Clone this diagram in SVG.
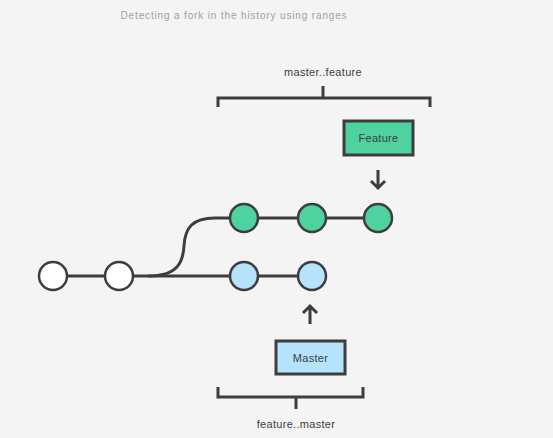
<svg xmlns="http://www.w3.org/2000/svg" width="553" height="438" viewBox="0 0 553 438">
<defs>
<style>
.t{font-family:"Liberation Sans",Arial,sans-serif;fill:#3d3d3d;text-anchor:middle;letter-spacing:0.3px}
.line{fill:none;stroke:#3d3d3d;stroke-width:3}
.c{stroke:#3d3d3d;stroke-width:2.5}
.w{fill:#ffffff}
.g{fill:#4dd2a0}
.b{fill:#b5e3fc}
</style>
</defs>
<rect width="553" height="438" fill="#f4f4f4"/>
<text x="234" y="19" class="t" style="fill:#a0a0a0;font-size:10px;letter-spacing:0.85px">Detecting a fork in the history using ranges</text>
<g id="connectors">
<path class="line" d="M53 276 H244 M244 276 H312"/>
<path class="line" d="M148 276 C178 276 183 262 184 246 C185 228 192 218 215 218 H378"/>
<path class="line" d="M378 170 V188 M371 181 L378 188 L385 181"/>
<path class="line" d="M310 324 V306 M303 313 L310 306 L317 313"/>
</g>
<g id="range-master-feature">
<text x="323" y="76" class="t" style="font-size:11px">master..feature</text>
<path class="line" d="M218 107 V98 H430 V107 M323 98 V86"/>
</g>
<g id="range-feature-master">
<path class="line" d="M218 387 V397 H363 V387 M296 397 V409"/>
<text x="296" y="428" class="t" style="font-size:11px">feature..master</text>
</g>
<g id="c1"><circle cx="53" cy="276" r="14" class="c w"/></g>
<g id="c2"><circle cx="119" cy="276" r="14" class="c w"/></g>
<g id="m1"><circle cx="244" cy="276" r="14" class="c b"/></g>
<g id="m2"><circle cx="312" cy="276" r="14" class="c b"/></g>
<g id="f1"><circle cx="244" cy="218" r="14" class="c g"/></g>
<g id="f2"><circle cx="312" cy="218" r="14" class="c g"/></g>
<g id="f3"><circle cx="378" cy="218" r="14" class="c g"/></g>
<g id="feature">
<rect x="344" y="121" width="69" height="34" class="c g" style="stroke-width:3"/>
<text x="378.5" y="142" class="t" style="font-size:11px">Feature</text>
</g>
<g id="master">
<rect x="276" y="341" width="69" height="33" class="c b" style="stroke-width:3"/>
<text x="310.5" y="362" class="t" style="font-size:11px">Master</text>
</g>
</svg>
